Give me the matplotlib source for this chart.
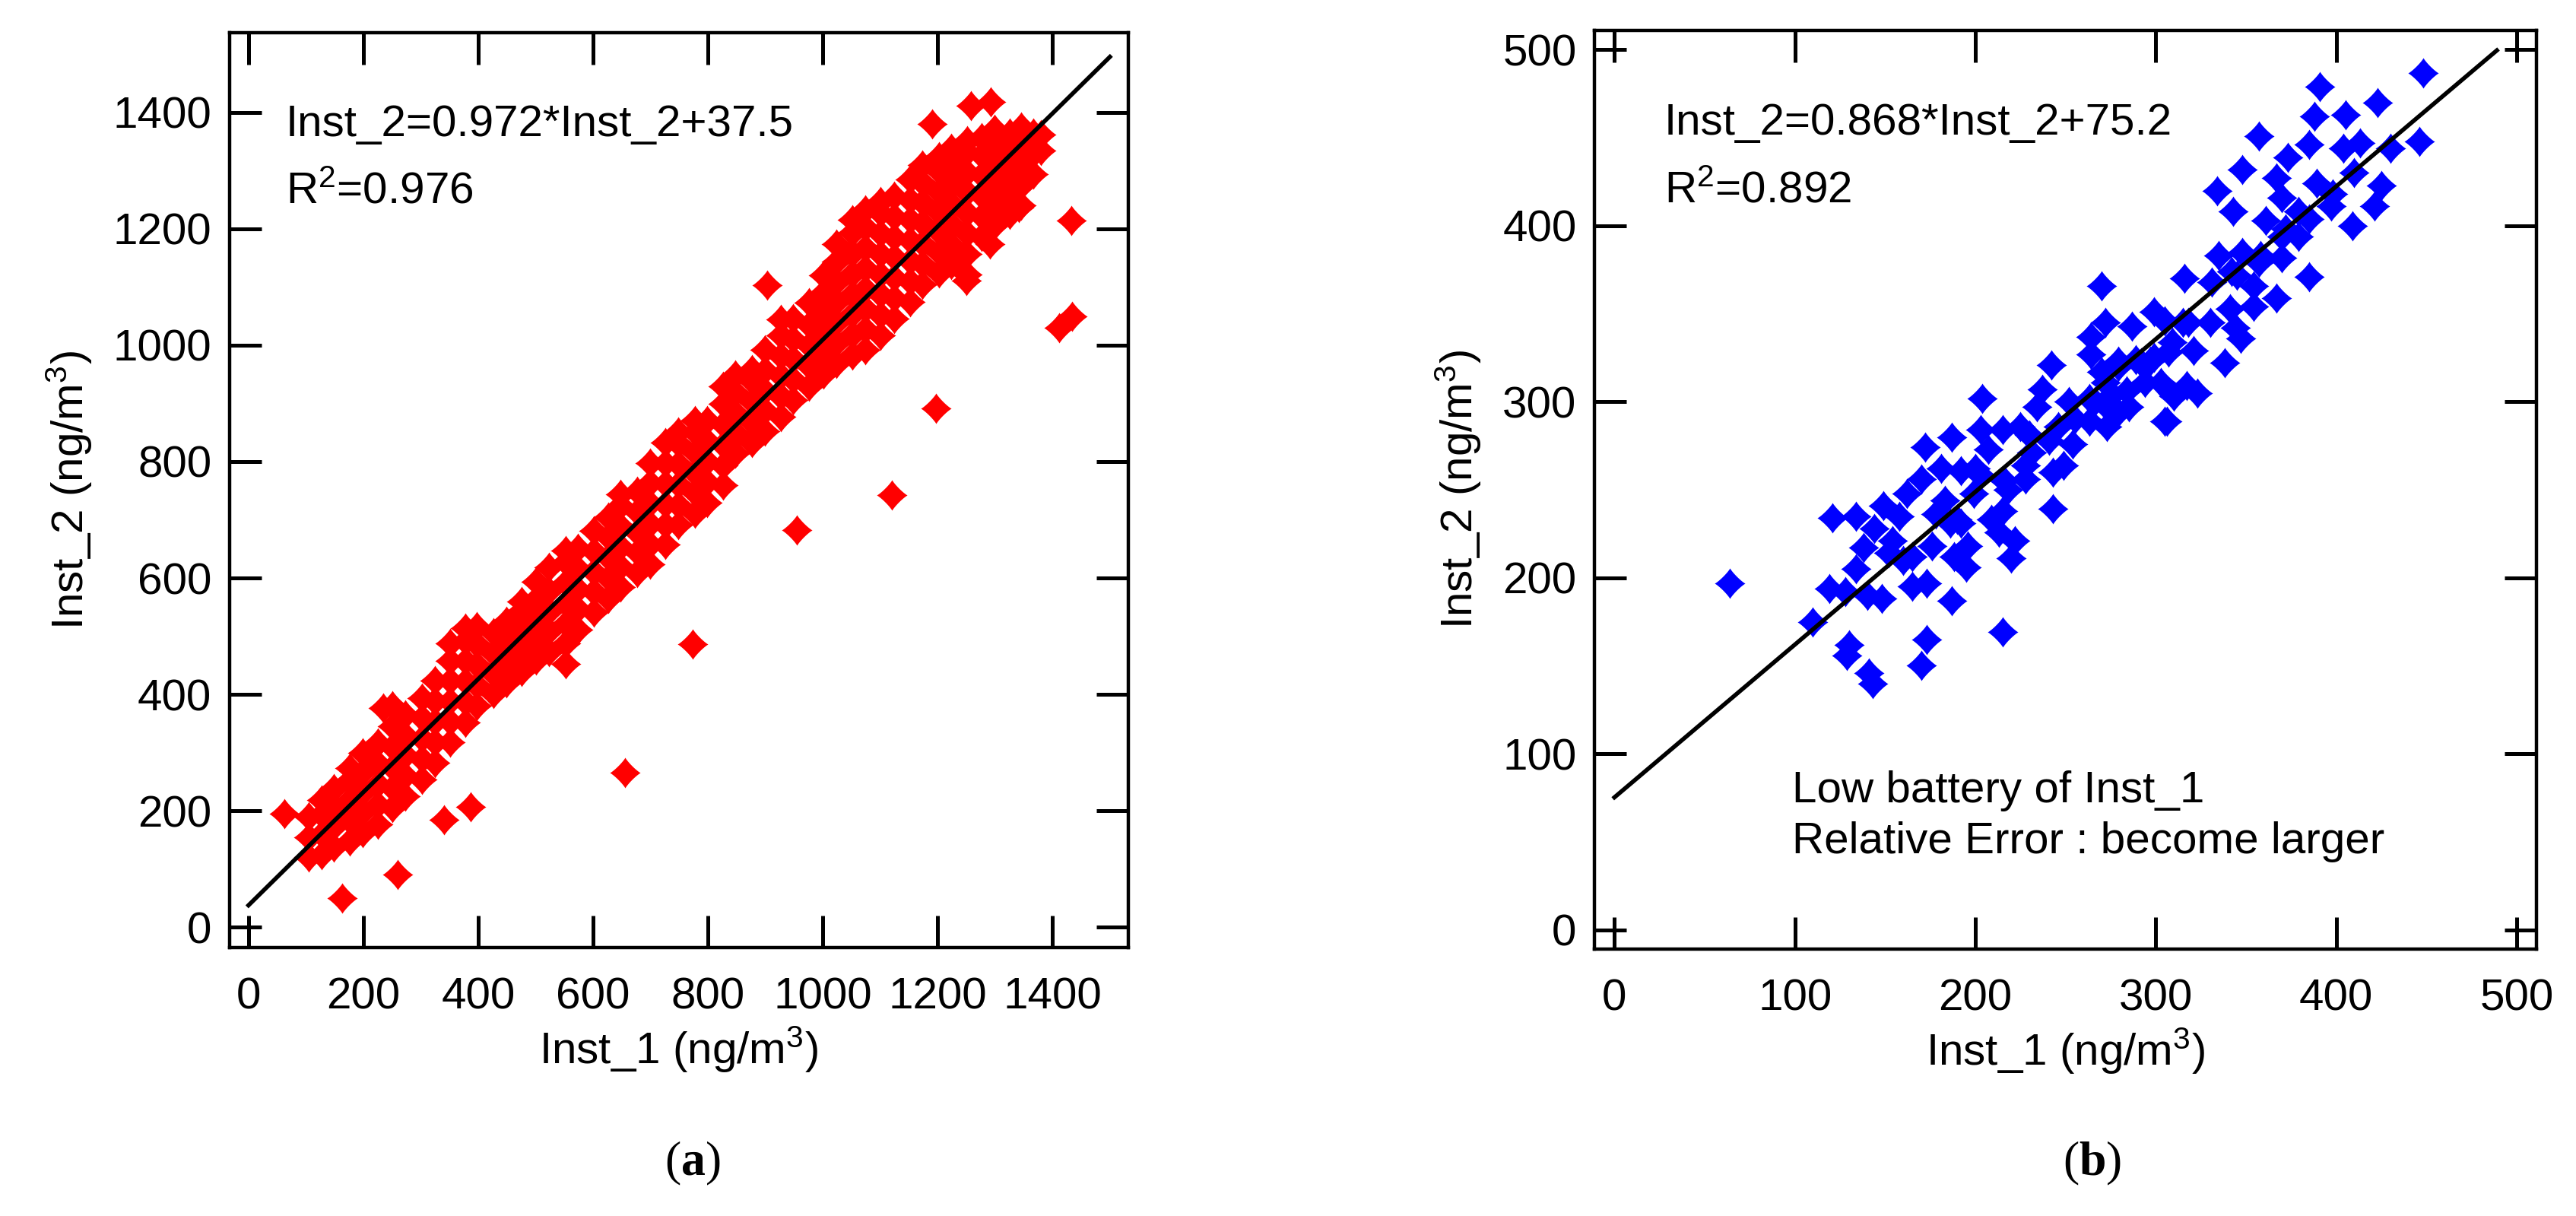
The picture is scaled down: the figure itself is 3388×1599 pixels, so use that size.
import numpy as np
import matplotlib
matplotlib.use('Agg')
import matplotlib.pyplot as plt
from matplotlib.path import Path

plt.rcParams['font.family'] = ['Liberation Sans', 'DejaVu Sans']
plt.rcParams['mathtext.fontset'] = 'custom'
plt.rcParams['mathtext.rm'] = 'Liberation Sans'
plt.rcParams['mathtext.bf'] = 'Liberation Serif:bold'
plt.rcParams['mathtext.default'] = 'regular'

# ---- panel (a): dense band, read column by column (Inst_1 -> list of Inst_2)
band_x = [105, 127, 148, 176, 199, 226, 251, 273, 302, 324, 351, 377, 398, 426,
          449, 476, 501, 523, 552, 574, 601, 626, 648, 677, 699, 726, 748, 777,
          799, 826, 848, 877, 899, 927, 948, 976, 1001, 1024, 1052, 1074, 1101,
          1124, 1152, 1173, 1202, 1224, 1251, 1276, 1299, 1326, 1346, 1366, 1380]
band_y = [
    [120, 155, 190],
    [124, 159, 194, 219],
    [138, 173, 208, 238],
    [148, 183, 218, 253, 273],
    [162, 197, 232, 267, 300],
    [176, 211, 246, 281, 316],
    [205, 240, 275, 310, 345, 380],
    [225, 260, 295, 330, 365],
    [254, 289, 324, 359, 394],
    [283, 318, 353, 388, 423],
    [318, 353, 388, 423, 458, 488],
    [352, 387, 422, 457, 492, 514],
    [381, 416, 451, 486, 516],
    [401, 436, 471, 506],
    [420, 455, 490, 525],
    [439, 474, 509, 544, 559],
    [459, 494, 529, 564, 594],
    [473, 508, 543, 578, 618],
    [452, 487, 522, 557, 592, 627, 647],
    [511, 546, 581, 616, 651],
    [541, 576, 611, 646, 681],
    [565, 600, 635, 670, 705],
    [584, 619, 654, 689, 724, 744],
    [609, 644, 679, 714, 749],
    [623, 658, 693, 728, 763, 798],
    [657, 692, 727, 762, 797, 832],
    [691, 726, 761, 796, 831, 851],
    [711, 746, 781, 816, 851, 871],
    [730, 765, 800, 835, 870],
    [759, 794, 829, 864, 899, 929],
    [814, 849, 884, 919, 949],
    [833, 868, 903, 938, 958],
    [852, 887, 922, 957, 992],
    [877, 912, 947, 982, 1017, 1045],
    [906, 941, 976, 1011, 1046],
    [930, 965, 1000, 1035, 1073],
    [950, 985, 1020, 1055, 1090, 1120],
    [969, 1004, 1039, 1074, 1109, 1144, 1174],
    [983, 1018, 1053, 1088, 1123, 1158, 1193, 1216],
    [992, 1027, 1062, 1097, 1132, 1167, 1202, 1232],
    [1017, 1052, 1087, 1122, 1157, 1192, 1227, 1247],
    [1046, 1081, 1116, 1151, 1186, 1221, 1256],
    [1075, 1110, 1145, 1180, 1215, 1250, 1285],
    [1105, 1140, 1175, 1210, 1245, 1280, 1310],
    [1124, 1159, 1194, 1229, 1264, 1299, 1324],
    [1138, 1173, 1208, 1243, 1278, 1313, 1338],
    [1122, 1157, 1192, 1227, 1262, 1297, 1332, 1352],
    [1187, 1222, 1257, 1292, 1327, 1357],
    [1206, 1241, 1276, 1311, 1346, 1371],
    [1225, 1260, 1295, 1330, 1365],
    [1240, 1275, 1310, 1345, 1375],
    [1294, 1329, 1364],
    [1335, 1362],
]
# scattered points away from the band
out_x = [63, 163, 260, 340, 387, 656, 774, 903, 955, 1120, 1197, 1191, 1258,
         1293, 1433, 1434, 1412, 1250, 1341, 1291, 235]
out_y = [195, 50, 90, 185, 207, 266, 486, 1103, 683, 743, 892, 1380, 1412,
         1418, 1214, 1049, 1030, 1111, 1236, 1174, 377]

# ---- panel (b)
inst1_b = [64, 110, 130, 129, 143, 141, 173, 170, 215, 187, 148, 119, 134, 173,
           165, 195, 220, 222, 243, 209, 213, 249, 204, 242, 225, 187, 172, 134,
           149, 162, 170, 183, 192, 199, 207, 215, 237, 270, 279, 263, 305, 299,
           303, 276, 254, 231, 154, 144, 186, 196, 176, 158, 228, 263, 234, 215,
           284, 289, 121,
           264, 287, 307, 310, 273, 246, 203, 181, 243, 228, 192, 188, 138, 264,
           255, 218, 160, 200,
           128, 140, 152, 165, 178, 190, 203, 216, 230, 241, 252, 266, 279, 292,
           305, 318, 331, 345, 358, 372, 385, 398, 410,
           448, 391, 423, 405, 388, 357, 373, 385, 348, 446, 430, 413, 404, 334,
           367, 343, 389, 421, 409, 397, 379, 370, 361, 379, 370, 335, 348, 357,
           385, 367, 354, 342, 316, 270, 299, 341, 344, 330, 315, 338, 321, 309,
           297, 317, 323, 306, 273, 272, 272, 285, 294, 279, 347, 354, 370, 425]
inst2_b = [197, 175, 162, 156, 140, 146, 165, 150, 169, 187, 188, 194, 205, 197,
           195, 206, 211, 221, 239, 233, 226, 264, 302, 321, 286, 280, 274, 235,
           241, 248, 256, 244, 261, 248, 273, 238, 307, 317, 294, 289, 289, 325,
           311, 304, 276, 271, 221, 228, 231, 218, 218, 235, 256, 302, 297, 284,
           306, 324, 234,
           337, 343, 328, 303, 297, 286, 284, 262, 260, 264, 231, 212, 217, 327,
           290, 250, 210, 262,
           192, 190, 214, 212, 236, 233, 258, 255, 281, 278, 300, 300, 323, 322,
           346, 345, 368, 372, 383, 398, 404, 418, 430,
           487, 479, 470, 463, 462, 451, 439, 446, 432, 448, 444, 447, 444, 420,
           427, 408, 424, 411, 400, 411, 408, 416, 403, 394, 394, 383, 385, 379,
           371, 359, 366, 374, 370, 366, 351, 353, 342, 345, 345, 322, 329, 334,
           323, 309, 305, 289, 286, 311, 345, 297, 311, 320, 336, 354, 382, 423]

fits = {'a': (0.972, 37.5, 1500), 'b': (0.868, 75.2, 489)}

inst1_a = [x for x, col in zip(band_x, band_y) for _ in col] + out_x
inst2_a = [y for col in band_y for y in col] + out_y

# concave four-point star marker
t = np.linspace(0, 2 * np.pi, 161)
e = 2.3
star = Path(np.column_stack([np.sign(np.cos(t)) * np.abs(np.cos(t)) ** e,
                             np.sign(np.sin(t)) * np.abs(np.sin(t)) ** e]))

fig = plt.figure(figsize=(16.94, 7.995), dpi=200)
ax1 = fig.add_axes([0.0891, 0.2208, 0.3489, 0.7523])
ax2 = fig.add_axes([0.6190, 0.2195, 0.3657, 0.7555])

ax1.scatter(inst1_a, inst2_a, marker=star, s=210, color='#ff0000', linewidths=0, zorder=2)
ax2.scatter(inst1_b, inst2_b, marker=star, s=210, color='#0000ff', linewidths=0, zorder=2)

for ax, key in [(ax1, 'a'), (ax2, 'b')]:
    k, b, xe = fits[key]
    ax.plot([0, xe], [b, k * xe + b], color='black', lw=2.0, zorder=3)

ax1.set_xlim(-33, 1532)
ax1.set_ylim(-35, 1537)
ax2.set_xlim(-11, 511)
ax2.set_ylim(-11, 511)
ax1.set_xticks(np.arange(0, 1401, 200))
ax1.set_yticks(np.arange(0, 1401, 200))
ax2.set_xticks(np.arange(0, 501, 100))
ax2.set_yticks(np.arange(0, 501, 100))

for ax in (ax1, ax2):
    ax.tick_params(direction='in', length=15, width=1.8, top=True, right=True,
                   labelsize=21)
    ax.tick_params(axis='x', pad=14)
    ax.tick_params(axis='y', pad=8.5)
    for sp in ax.spines.values():
        sp.set_linewidth(1.6)
    ax.set_xlabel('Inst_1 (ng/m$^3$)', fontsize=21, labelpad=3)
    ax.set_ylabel('Inst_2 (ng/m$^3$)', fontsize=21, labelpad=9)

ax1.text(65, 1359, 'Inst_2=0.972*Inst_2+37.5', fontsize=21, va='baseline')
ax1.text(65, 1244, 'R$^2$=0.976', fontsize=21, va='baseline')
ax2.text(27.6, 452, 'Inst_2=0.868*Inst_2+75.2', fontsize=21, va='baseline')
ax2.text(27.6, 413, 'R$^2$=0.892', fontsize=21, va='baseline')
ax2.text(98.6, 72.4, 'Low battery of Inst_1', fontsize=21, va='baseline')
ax2.text(98.6, 43.4, 'Relative Error : become larger', fontsize=21, va='baseline')

fig.text(0.2689, 0.0432, r'($\mathbf{a}$)', family='Liberation Serif', fontsize=23,
         ha='center', va='center')
fig.text(0.8123, 0.0432, r'($\mathbf{b}$)', family='Liberation Serif', fontsize=23,
         ha='center', va='center')

fig.savefig('out.png', dpi=200)
